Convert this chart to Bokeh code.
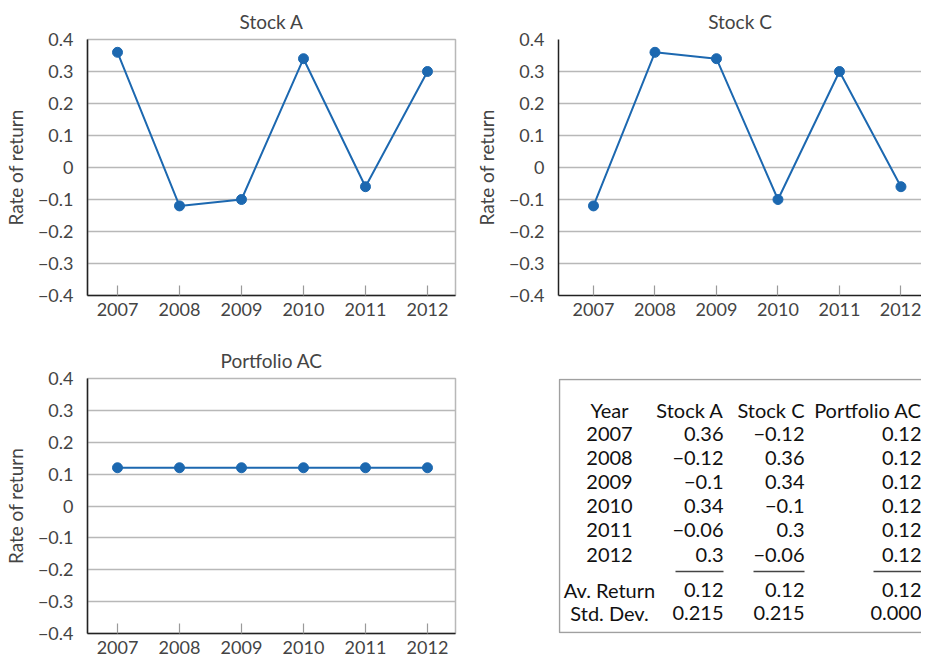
from bokeh.plotting import figure
from bokeh.layouts import gridplot
from bokeh.models import Range1d, FixedTicker, CustomJSTickFormatter
from bokeh.core.properties import value
from bokeh.embed import file_html
from bokeh.resources import INLINE
import numpy as np

# ---------------- data ----------------
years = [2007, 2008, 2009, 2010, 2011, 2012]
stock_a = [0.36, -0.12, -0.10, 0.34, -0.06, 0.30]
stock_c = [-0.12, 0.36, 0.34, -0.10, 0.30, -0.06]
portfolio_ac = [0.12, 0.12, 0.12, 0.12, 0.12, 0.12]
y_ticks = [-0.4, -0.3, -0.2, -0.1, 0.0, 0.1, 0.2, 0.3, 0.4]
titles = ["Stock A", "Stock C", "Portfolio AC"]
y_label = "Rate of return"
table_headers = ["Year", "Stock A", "Stock C", "Portfolio AC"]
summary_labels = ["Av. Return", "Std. Dev."]

FONT = "Lato"
FS = "18px"
FS_BIG = "19px"
BLUE = "#1c68b0"
GRID = "#b8b8b8"

fmt_js = """
if (Math.abs(tick) < 1e-9) { return "0"; }
const s = Math.abs(tick).toFixed(1);
return (tick < 0 ? "\u2212" : "") + s;
"""

# borders / frames (px)
L1, R1, L2, R2 = 82, 14, 89, 0
T1, B1, T2, B2 = 31, 44, 33, 26
FW1, FW2 = 368, 363
FH1, FH2 = 256, 255


def make_plot(title, vals, fw, fh, bl, br, bt, bb, x_start, x_end, outline):
    p = figure(frame_width=fw, frame_height=fh, output_backend="svg", toolbar_location=None,
               x_range=Range1d(x_start, x_end), y_range=Range1d(-0.4, 0.4),
               min_border_left=bl, min_border_right=br, min_border_top=bt,
               min_border_bottom=bb, background_fill_color="white")
    p.title.text = title
    p.title.align = "center"
    p.title.text_font = FONT
    p.title.text_font_size = FS_BIG
    p.title.text_font_style = "normal"
    p.title.standoff = 14

    if outline:
        p.outline_line_color = GRID
        p.outline_line_width = 1.5
    else:
        p.outline_line_color = None

    p.xgrid.visible = False
    yt = FixedTicker(ticks=y_ticks)
    p.yaxis.ticker = yt
    p.ygrid.ticker = yt
    p.ygrid.grid_line_color = GRID
    p.ygrid.grid_line_width = 1.5

    p.yaxis.formatter = CustomJSTickFormatter(code=fmt_js)
    p.yaxis.axis_label = y_label
    p.yaxis.axis_label_text_font = FONT
    p.yaxis.axis_label_text_font_size = FS_BIG
    p.yaxis.axis_label_text_font_style = "normal"
    p.yaxis.axis_label_standoff = 8
    p.yaxis.major_label_text_font = FONT
    p.yaxis.major_label_text_font_size = FS
    p.yaxis.major_label_standoff = 8
    p.yaxis.major_tick_line_color = None
    p.yaxis.minor_tick_line_color = None
    p.yaxis.axis_line_color = "#222222"
    p.yaxis.axis_line_width = 1.5

    p.xaxis.ticker = FixedTicker(ticks=years)
    p.xaxis.major_label_text_font = FONT
    p.xaxis.major_label_text_font_size = FS
    p.xaxis.major_label_standoff = 7
    p.xaxis.major_tick_in = 10
    p.xaxis.major_tick_out = 0
    p.xaxis.major_tick_line_color = "#9a9a9a"
    p.xaxis.major_tick_line_width = 1.2
    p.xaxis.minor_tick_line_color = None
    p.xaxis.axis_line_color = "#222222"
    p.xaxis.axis_line_width = 1.5

    p.line(years, vals, line_color=BLUE, line_width=2)
    p.scatter(years, vals, size=10, fill_color=BLUE, line_color=BLUE)
    return p


pA = make_plot(titles[0], stock_a, FW1, FH1, L1, R1, T1, B1, 2006.516, 2012.452, True)
pC = make_plot(titles[1], stock_c, FW2, FH1, L2, R2, T1, B1, 2006.431, 2012.334, False)
pP = make_plot(titles[2], portfolio_ac, FW1, FH2, L1, R1, T2, B2, 2006.516, 2012.452, True)

# ---------------- table ----------------
def fmt(v, nd=None):
    s = f"{v:.{nd}f}" if nd is not None else f"{v:g}"
    return s.replace("-", "\u2212")

av = [np.mean(stock_a), np.mean(stock_c), np.mean(portfolio_ac)]
sd = [np.std(stock_a), np.std(stock_c), np.std(portfolio_ac)]

# table panel: x / y in pixels from the panel's top-left corner
pt = figure(frame_width=FW2, frame_height=FH2, output_backend="svg", toolbar_location=None,
            x_range=Range1d(L2, L2 + FW2), y_range=Range1d(T2 + FH2, T2),
            min_border_left=L2, min_border_right=R2, min_border_top=T2, min_border_bottom=B2,
            x_axis_location=None, y_axis_location=None)
pt.title.text = ""
pt.grid.visible = False
pt.outline_line_color = None

pt.quad(left=[L2 + 1], right=[L2 + FW2 + 30], top=[T2 + 1], bottom=[T2 + FH2 - 1], fill_color=None,
        line_color="#a0a0a0", line_width=1.5)

col_x = [140, 254, 335, 452]
col_align = ["center", "right", "right", "right"]
head_y = 64
row_y0 = 88
row_dy = 24.2

tx, ty, tt, ta = [], [], [], []
for j, h in enumerate(table_headers):
    tx.append(col_x[j]); ty.append(head_y); tt.append(h); ta.append(col_align[j])
series = [stock_a, stock_c, portfolio_ac]
for i, yr in enumerate(years):
    yy = row_y0 + i * row_dy
    tx.append(col_x[0]); ty.append(yy); tt.append(str(yr)); ta.append("center")
    for j, s in enumerate(series):
        tx.append(col_x[j + 1]); ty.append(yy); tt.append(fmt(s[i])); ta.append("right")
sum_y = [244, 267]
for k, lab in enumerate(summary_labels):
    tx.append(col_x[0]); ty.append(sum_y[k]); tt.append(lab); ta.append("center")
    vals = av if k == 0 else sd
    nd = 2 if k == 0 else 3
    for j, v in enumerate(vals):
        vv = 0.0 if abs(v) < 1e-12 else v
        tx.append(col_x[j + 1]); ty.append(sum_y[k]); tt.append(fmt(vv, nd)); ta.append("right")

pt.text(x=tx, y=ty, text=tt, text_align=ta, text_baseline="middle",
        text_font=value(FONT), text_font_size="20px", text_color="#111111")

ul_w = [48, 51, 48]
pt.segment(x0=[col_x[j + 1] - ul_w[j] for j in range(3)], x1=[col_x[j + 1] for j in range(3)],
           y0=[226] * 3, y1=[226] * 3, line_color="#444444", line_width=1.5)

layout = gridplot([[pA, pC], [pP, pt]], toolbar_location=None)
open("out.html", "w").write(file_html(layout, INLINE))
